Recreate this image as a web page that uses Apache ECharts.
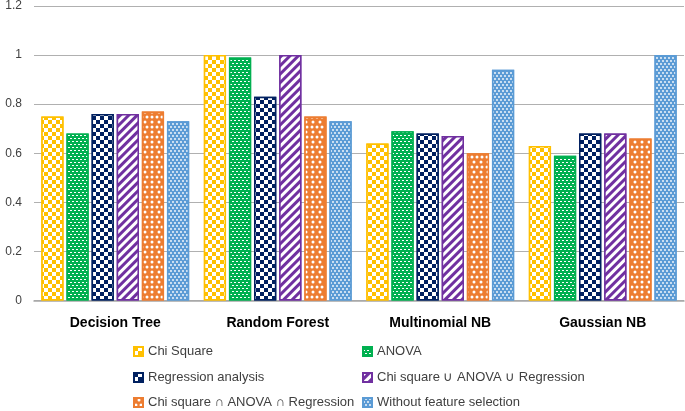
<!DOCTYPE html>
<html><head><meta charset="utf-8">
<script src="https://cdn.jsdelivr.net/npm/echarts@6/dist/echarts.min.js"></script>
<style>html,body{margin:0;padding:0;background:#fff}#c{width:685px;height:411px}</style>
</head><body><div id="c"></div>
<script>
const categories = ['Decision Tree', 'Random Forest', 'Multinomial NB', 'Gaussian NB'];
const seriesNames = ['Chi Square', 'ANOVA', 'Regression analysis', 'Chi square \u222A ANOVA \u222A Regression', 'Chi square \u2229 ANOVA \u2229 Regression', 'Without feature selection'];
const chiSquare = [0.75, 1.00, 0.64, 0.63];
const anova = [0.68, 0.99, 0.69, 0.59];
const regression = [0.76, 0.83, 0.68, 0.68];
const unionSel = [0.76, 1.00, 0.67, 0.68];
const intersectSel = [0.77, 0.75, 0.60, 0.66];
const withoutSel = [0.73, 0.73, 0.94, 1.00];
const yTicks = [0, 0.2, 0.4, 0.6, 0.8, 1, 1.2];

const values = [chiSquare, anova, regression, unionSel, intersectSel, withoutSel];
const colors = ['#FFC000', '#00B050', '#002060', '#7030A0', '#ED7D31', '#5B9BD5'];
const checker = {symbol:'rect', symbolSize:1, color:'#fff', dashArrayX:[[4,4],[0,4,4,0]], dashArrayY:[4,0]};
const decals = [
  checker,
  {symbol:'rect', symbolSize:1, color:'#fff', dashArrayX:[[2,2],[0,2,2,0]], dashArrayY:[1,1.5]},
  checker,
  {symbol:'rect', symbolSize:1, color:'#fff', dashArrayX:[1,0], dashArrayY:[2.5,3], rotation:-Math.PI/4},
  {symbol:'circle', symbolSize:0.75, color:'#fff', dashArrayX:[[4,1],[0,2.5,4,0]], dashArrayY:[4,0.5]},
  {symbol:'circle', symbolSize:0.9, color:'#fff', dashArrayX:[[2,1.5],[0,1.75,2,0]], dashArrayY:[2,0.5]}
];
const font = 'Liberation Sans';
const legendPos = [[133,345],[362,345],[133,371],[362,371],[133,396],[362,396]];
const chart = echarts.init(document.getElementById('c'));
chart.setOption({
  animation:false,
  grid:{left:34, right:1, top:4.5, bottom:110.5},
  legend: seriesNames.map((n,i)=>({data:[n], left:legendPos[i][0], top:legendPos[i][1], padding:0, itemWidth:9, itemHeight:9, itemTextGap:4, icon:'rect',
    textStyle:{fontFamily:font, fontSize:13, color:'#404040'}})),
  xAxis:{type:'category', data:categories, axisTick:{show:false}, axisLine:{lineStyle:{color:'#a6a6a6', width:1.5}},
    axisLabel:{fontFamily:font, fontSize:14, fontWeight:'bold', color:'#000', margin:16}},
  yAxis:{type:'value', min:yTicks[0], max:yTicks[yTicks.length-1], interval:0.2, axisLine:{show:false}, axisTick:{show:false},
    splitLine:{lineStyle:{color:'#b0b0b0', width:1.2}},
    axisLabel:{fontFamily:font, fontSize:12, color:'#404040', margin:12}},
  series: values.map((v,i)=>({
    name:seriesNames[i], type:'bar', data:v, barGap:'13%', barCategoryGap:'9%',
    itemStyle:{color:colors[i], borderColor:colors[i], borderWidth:1.5, decal:decals[i]}
  }))
});
</script></body></html>
